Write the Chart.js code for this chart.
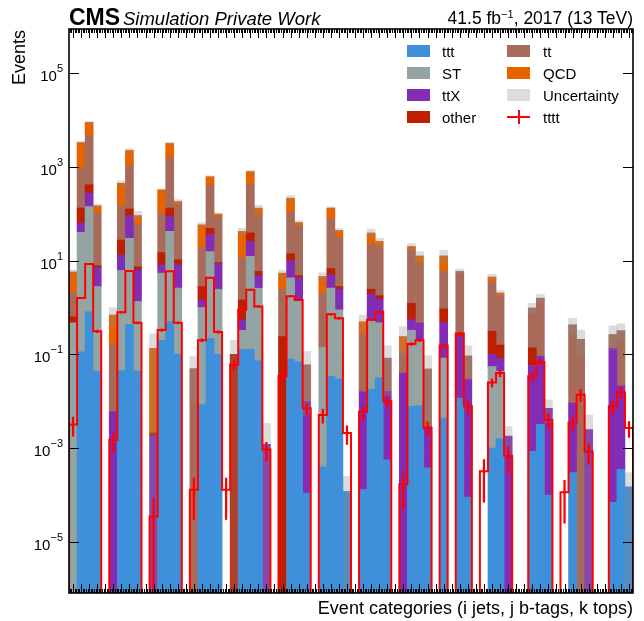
<!DOCTYPE html>
<html>
<head>
<meta charset="utf-8">
<script src="https://cdn.jsdelivr.net/npm/chart.js@4.4.1/dist/chart.umd.min.js"></script>
<style>
  body { margin: 0; background: #fff; font-family: "Liberation Sans", Arial, sans-serif; }
  #wrap { position: relative; width: 644px; height: 621px; overflow: hidden; }
  canvas { position: absolute; left: 0; top: 0; }
  .txt { position: absolute; white-space: nowrap; color: #000; line-height: 1; }
  #cms { left: 69px; top: 6px; font-size: 23px; font-weight: bold; }
  #sim { left: 123px; top: 10px; font-size: 18.5px; font-style: italic; }
  #lumi { right: 11px; top: 10px; font-size: 17.5px; }
  #lumi sup { font-size: 11px; vertical-align: 6px; line-height: 0; }
  #xtitle { right: 11px; top: 599px; font-size: 18px; }
  #ytitle { left: 10px; top: 230px; width: 200px; text-align: right; font-size: 18px;
            transform-origin: 0 0; transform: rotate(-90deg); }
  .leg { position: absolute; font-size: 15px; line-height: 1; white-space: nowrap; }
  .patch { position: absolute; width: 23px; height: 12px; }
</style>
</head>
<body>
<div id="wrap">
  <canvas id="chart" width="644" height="621"></canvas>
  <div class="txt" id="cms">CMS</div>
  <div class="txt" id="sim">Simulation Private Work</div>
  <div class="txt" id="lumi">41.5 fb<sup>−1</sup>, 2017 (13 TeV)</div>
  <div class="txt" id="xtitle">Event categories (i jets, j b-tags, k tops)</div>
  <div class="txt" id="ytitle">Events</div>
  <div id="legend"></div>
</div>
<script>
// 70 event categories (bins)
const nBins = 70;

const ttt = [0, 0.115, 0.82, 0.044, 0,
  0, 0.045, 0.43, 0.044, 0,
  0, 0.2, 0.5, 0.1, 0,
  0, 0.0085, 0.22, 0.1, 0,
  0, 0.126, 0.13, 0.074, 0,
  0, 0, 0.079, 0.069, 0.00011,
  0, 0.0004, 0.034, 0.03, 0.00012,
  0, 0.00013, 0.018, 0.032, 0.00056,
  0, 0, 0.0078, 0.008, 0.00038,
  0, 0.0044, 0, 0.0117, 0.00009,
  0, 0, 0.001, 0.0016, 0,
  0, 0, 0.00085, 0.0032, 0.0001,
  0, 0, 0.0003, 0, 0,
  0, 0, 0.00007, 0.00035, 0.00015];

const ST = [0.47, 40, 141, 2.76, 0,
  0, 6.1, 29.6, 1.3, 0,
  0, 5.2, 41.5, 2.5, 0,
  0, 0.99, 15.3, 2.35, 0,
  0, 0.2, 12.2, 2.5, 0,
  0, 0, 4.2, 1.38, 0,
  0, 0.14, 2.57, 0.86, 0,
  0, 0, 0.53, 0.44, 0,
  0, 0, 0.32, 0.19, 0,
  0, 0.079, 0, 0, 0,
  0, 0, 0.054, 0.042, 0,
  0, 0, 0, 0, 0,
  0, 0, 0, 0, 0,
  0, 0, 0, 0, 0];

const ttX = [0, 23, 135, 4.4, 0,
  0.006, 7.0, 61, 4.95, 0,
  0.0018, 2.7, 45, 5.5, 0,
  0, 0.45, 20.5, 6.05, 0,
  0, 0.22, 13.4, 2.2, 0.0012,
  0, 0, 5.7, 2.85, 0.0099,
  0, 0, 2.4, 1.56, 0,
  0, 0.016, 1.4, 1.03, 0.0155,
  0, 0.04, 0.22, 0.27, 0.0025,
  0, 0.39, 0, 0.23, 0.029,
  0, 0, 0.045, 0.039, 0.0018,
  0, 0, 0.057, 0.088, 0.007,
  0, 0, 0.0088, 0, 0.0025,
  0, 0, 0.135, 0.021, 0];

const other = [0.16, 69, 138, 0.6, 0,
  0, 14.3, 35, 1.1, 0,
  0.0003, 6.7, 45, 2.4, 0,
  0, 1.35, 13, 0.6, 0,
  0.1, 0.9, 13.3, 1.1, 0,
  0, 0.24, 4.1, 0.5, 0,
  0, 0, 1.8, 0.35, 0,
  0, 0, 0.5, 0.28, 0,
  0, 0, 0.68, 0, 0,
  0, 0.46, 0, 0.04, 0,
  0, 0, 0.21, 0.075, 0,
  0, 0, 0.08, 0, 0,
  0, 0, 0, 0, 0,
  0, 0, 0, 0, 0];

const tt = [1.4, 808, 4185, 95, 0,
  0.154, 120, 921, 51, 0,
  0, 87, 1417, 144.5, 0,
  0.05, 15.8, 349, 76, 0,
  0, 9.75, 378, 89, 0,
  0, 2.16, 93, 50, 0.05,
  0, 1.9, 71, 28.8, 0,
  0, 0.26, 19.5, 18.2, 0.067,
  0, 0.075, 15.8, 8.4, 0.046,
  0, 5.0, 0, 5.6, 0.064,
  0, 0, 3.16, 1.58, 0,
  0, 0, 0.84, 1.49, 0,
  0, 0, 0.42, 0.21, 0,
  0, 0, 0.13, 0.30, 0];

const QCD = [3.7, 2360, 4300, 45, 0,
  0.53, 299, 1190, 33, 0,
  0.133, 222, 1613, 27, 0,
  0, 39.4, 219, 13, 0,
  0, 30.8, 377, 37, 0,
  0, 3.0, 107, 10, 0,
  0, 2.56, 54, 12.4, 0,
  0, 0.22, 17, 5.7, 0,
  0, 0.125, 3, 3.7, 0,
  0, 6.7, 0, 0, 0,
  0, 0, 1.0, 0.3, 0,
  0, 0, 0, 0, 0,
  0, 0, 0, 0, 0,
  0, 0, 0, 0, 0];

// absolute uncertainty on the summed background
const uncErr = [0.6, 170, 350, 10, 0,
  0.31, 53, 200, 21, 0,
  0.14, 10, 150, 18, 0,
  0.04, 7, 30, 5, 0,
  0.1, 7, 40, 20, 0.0022,
  0, 0.9, 30, 6, 0.055,
  0, 0.9, 9, 4, 0.00013,
  0, 0.19, 8, 4, 0.07,
  0, 0.15, 3, 3, 0.045,
  0, 4, 0, 0.7, 0.06,
  0, 0, 0.6, 0.25, 0.0011,
  0, 0, 0.25, 0.3, 0.0036,
  0, 0, 0.16, 0.12, 0.0026,
  0, 0, 0.14, 0.13, 0.00015];

// signal
const tttt = [0.0032, 1.6, 8.5, 0.31, 0,
  0.0015, 0.79, 6.0, 0.47, 0,
  0.000035, 0.33, 5.9, 0.47, 0,
  0.00013, 0.2, 4.3, 0.3, 0.00013,
  0.06, 0.9, 2.4, 1.05, 0.00093,
  0, 0.034, 1.74, 1.45, 0.0071,
  0, 0.0051, 0.72, 0.59, 0.0021,
  0, 0.006, 0.55, 0.81, 0.01,
  0, 0.00017, 0.166, 0.2, 0.0027,
  0, 0.155, 0, 0.28, 0.0078,
  0, 0.00032, 0.025, 0.04, 0.00069,
  0, 0, 0.034, 0.069, 0.004,
  0, 0.000115, 0.0035, 0.0138, 0.00085,
  0, 0, 0.0078, 0.0155, 0.0027];

const ttttErr = [0.0014, 0.05, 0.15, 0.02, 0,
  0.0007, 0.03, 0.12, 0.02, 0,
  0.00005, 0.02, 0.12, 0.02, 0,
  0.0001, 0.015, 0.1, 0.02, 0.0001,
  0.012, 0.03, 0.06, 0.04, 0.0004,
  0, 0.008, 0.05, 0.05, 0.002,
  0, 0.0017, 0.03, 0.03, 0.0009,
  0, 0.002, 0.03, 0.03, 0.003,
  0, 0.00012, 0.012, 0.013, 0.0009,
  0, 0.012, 0, 0.015, 0.0025,
  0, 0.00025, 0.005, 0.007, 0.0004,
  0, 0, 0.007, 0.01, 0.0015,
  0, 0.00009, 0.0012, 0.004, 0.0004,
  0, 0, 0.0025, 0.004, 0.001];

const yTickExps = [-5, -3, -1, 1, 3, 5];
const yMin = Math.pow(10, -6.09);
const yMax = Math.pow(10, 5.94);

const stackNames = ['ttt', 'ST', 'ttX', 'other', 'tt', 'QCD'];
const stackValues = [ttt, ST, ttX, other, tt, QCD];
const stackColors = ['#3f90da', '#94a4a2', '#832db6', '#bd1f01', '#a96b59', '#e76300'];
const uncColor = 'rgba(140, 140, 140, 0.3)';
const sigColor = '#ff0000';

// build floating bars for the stack
const running = new Array(nBins).fill(0);
const datasets = [];
stackValues.forEach((vals, k) => {
  const data = vals.map((v, i) => {
    const lo = running[i];
    running[i] += v;
    return { x: i + 0.5, y: v > 0 ? [lo > 0 ? lo : yMin, running[i]] : null };
  });
  datasets.push({
    label: stackNames[k], data, backgroundColor: stackColors[k],
    borderWidth: 0, grouped: false, barPercentage: 1, categoryPercentage: 1, order: 10
  });
});

datasets.push({
  label: 'Uncertainty',
  data: running.map((tot, i) => ({
    x: i + 0.5,
    y: uncErr[i] > 0 ? [Math.max(tot - uncErr[i], yMin), tot + uncErr[i]] : null
  })),
  backgroundColor: uncColor, borderWidth: 0, grouped: false,
  barPercentage: 1, categoryPercentage: 1, order: 5
});

// signal error bars
datasets.push({
  label: 'tttt err',
  data: tttt.map((v, i) => ({
    x: i + 0.5,
    y: v > 0 ? [Math.max(v - ttttErr[i], yMin), v + ttttErr[i]] : null
  })),
  backgroundColor: sigColor, borderWidth: 0, grouped: false,
  barPercentage: 1, categoryPercentage: 1, maxBarThickness: 1.6, order: 1
});

// signal step line
const stepPts = [{ x: 0, y: 1e-9 }];
tttt.forEach((v, i) => stepPts.push({ x: i, y: v > 0 ? v : 1e-9 }));
stepPts.push({ x: nBins, y: tttt[nBins - 1] > 0 ? tttt[nBins - 1] : 1e-9 });
stepPts.push({ x: nBins, y: 1e-9 });
datasets.push({
  type: 'line', label: 'tttt', data: stepPts, stepped: 'before',
  borderColor: sigColor, borderWidth: 2, pointRadius: 0, fill: false,
  borderJoinStyle: 'miter', order: 0
});

// frame, inward ticks, y labels
const frame = {
  id: 'frame',
  afterDraw(chart) {
    const { ctx, chartArea: a, scales: { x, y } } = chart;
    ctx.save();
    ctx.strokeStyle = '#000';
    ctx.lineWidth = 1;
    ctx.beginPath();
    for (let i = 0; i < nBins; i++) {
      for (let k = 0; k < 5; k++) {
        const px = Math.round(x.getPixelForValue(i + 0.1 + k * 0.2)) + 0.5;
        const len = k === 2 ? 9 : 4;
        ctx.moveTo(px, a.bottom); ctx.lineTo(px, a.bottom - len);
        ctx.moveTo(px, a.top); ctx.lineTo(px, a.top + len);
      }
    }
    yTickExps.forEach(e => {
      const py = Math.round(y.getPixelForValue(Math.pow(10, e))) + 0.5;
      ctx.moveTo(a.left, py); ctx.lineTo(a.left + 10, py);
      ctx.moveTo(a.right, py); ctx.lineTo(a.right - 10, py);
    });
    ctx.stroke();
    ctx.lineWidth = 1.6;
    ctx.strokeRect(a.left, a.top, a.right - a.left, a.bottom - a.top);

    ctx.fillStyle = '#000';
    ctx.textBaseline = 'alphabetic';
    yTickExps.forEach(e => {
      const py = y.getPixelForValue(Math.pow(10, e));
      const expTxt = e < 0 ? '\u2212' + Math.abs(e) : String(e);
      ctx.font = '11px "Liberation Sans", Arial, sans-serif';
      const ew = ctx.measureText(expTxt).width;
      ctx.textAlign = 'right';
      ctx.fillText(expTxt, a.left - 6, py - 1);
      ctx.font = '15px "Liberation Sans", Arial, sans-serif';
      ctx.fillText('10', a.left - 6 - ew, py + 8);
    });
    ctx.restore();
  }
};

new Chart(document.getElementById('chart'), {
  type: 'bar',
  data: { datasets },
  options: {
    responsive: false,
    animation: false,
    devicePixelRatio: 1,
    layout: { padding: { left: 69, right: 11, top: 29, bottom: 28 } },
    plugins: { legend: { display: false }, tooltip: { enabled: false } },
    scales: {
      x: { type: 'linear', min: 0, max: nBins, offset: false, display: false },
      y: { type: 'logarithmic', min: yMin, max: yMax, display: false }
    }
  },
  plugins: [frame]
});

// legend, two columns
const legendItems = [
  { name: 'ttt', color: stackColors[0] }, { name: 'ST', color: stackColors[1] },
  { name: 'ttX', color: stackColors[2] }, { name: 'other', color: stackColors[3] },
  { name: 'tt', color: stackColors[4] }, { name: 'QCD', color: stackColors[5] },
  { name: 'Uncertainty', color: '#dcdcdc' }, { name: 'tttt', color: null }
];
const legend = document.getElementById('legend');
legendItems.forEach((it, idx) => {
  const col = Math.floor(idx / 4), row = idx % 4;
  const cy = 51 + row * 22.1;
  const px = col === 0 ? 407 : 507;
  const tx = col === 0 ? 442 : 543;
  if (it.color) {
    const p = document.createElement('div');
    p.className = 'patch';
    p.style.left = px + 'px'; p.style.top = (cy - 6) + 'px';
    p.style.background = it.color;
    legend.appendChild(p);
  } else {
    const h = document.createElement('div');
    h.style.cssText = `position:absolute;left:${px}px;top:${cy - 1}px;width:23px;height:2px;background:${sigColor}`;
    const v = document.createElement('div');
    v.style.cssText = `position:absolute;left:${px + 10.5}px;top:${cy - 7}px;width:2px;height:14px;background:${sigColor}`;
    legend.appendChild(h); legend.appendChild(v);
  }
  const t = document.createElement('div');
  t.className = 'leg';
  t.textContent = it.name;
  t.style.left = tx + 'px'; t.style.top = (cy - 7.5) + 'px';
  legend.appendChild(t);
});
</script>
</body>
</html>
